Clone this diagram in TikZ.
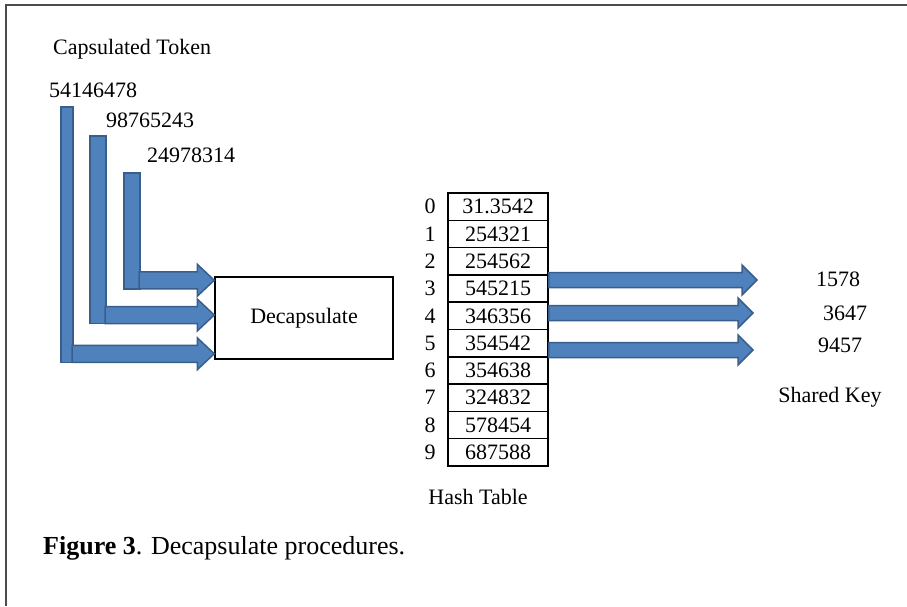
\documentclass[tikz,border=0pt]{standalone}
\usepackage{fontspec}
\setmainfont{Liberation Serif}
\usetikzlibrary{calc}
\definecolor{arrowfill}{HTML}{4F81BD}
\definecolor{arrowedge}{HTML}{3A5E8C}
\begin{document}
\begin{tikzpicture}[x=1pt,y=-1pt,
    txt/.style={inner sep=0pt,font=\fontsize{22}{26}\selectfont},
    cell/.style={txt,draw,line width=1.5pt,minimum width=100pt,minimum height=27.3pt},
    blockarrow/.style={fill=arrowfill,draw=arrowedge,line width=1.5pt},
    harrow/.style n args={3}{blockarrow,to path={let \p1=(\tikztostart),\p2=(\tikztotarget) in
      (\x1,\y1+#1) -- (\x2-#3,\y1+#1) -- (\x2-#3,\y1+#2) -- (\x2,\y1)
      -- (\x2-#3,\y1-#2) -- (\x2-#3,\y1-#1) -- (\x1,\y1-#1) -- cycle}}]
  \useasboundingbox (0,0) rectangle (907,606);
  \draw[gray!60!black,line width=2pt] (6,606) -- (6,5) -- (907,5);

  \node[txt,anchor=base west] (title) at (53,54) {Capsulated Token};
  \node[txt,anchor=base west] (tok1) at (49,97) {54146478};
  \node[txt,anchor=base west] (tok2) at (106,127) {98765243};
  \node[txt,anchor=base west] (tok3) at (147,162) {24978314};
  \node[txt,draw,line width=1.5pt,minimum width=178pt,minimum height=82pt] (dec) at (304,318) {Decapsulate};

  \coordinate (b1) at (67,107);
  \coordinate (b2) at (98,136);
  \coordinate (b3) at (132,173);
  \coordinate (e1) at ($(dec.south west)+(0,-6)$);
  \coordinate (e2) at ($(dec.west)+(0,-3)$);
  \coordinate (e3) at ($(dec.north west)+(0,4)$);
  \filldraw[blockarrow] ($(b1)+(-6,0)$) rectangle ($(b1|-e1)+(6,8.5)$);
  \filldraw[blockarrow] ($(b2)+(-8,0)$) rectangle ($(b2|-e2)+(8,8.5)$);
  \filldraw[blockarrow] ($(b3)+(-8,0)$) rectangle ($(b3|-e3)+(8,8.5)$);
  \draw[harrow={8.5pt}{16pt}{17pt}] ($(b1|-e1)+(5,0)$) to (e1);
  \draw[harrow={8.5pt}{16pt}{17pt}] ($(b2|-e2)+(7,0)$) to (e2);
  \draw[harrow={8.5pt}{16pt}{17pt}] ($(b3|-e3)+(7,0)$) to (e3);

  \foreach \v [count=\i from 0] in {31.3542,254321,254562,545215,346356,354542,354638,324832,578454,687588}{
    \node[cell] (h\i) at (498,{206.65+27.3*\i}) {\v};
    \node[txt] (n\i) at (430,{206.65+27.3*\i}) {\i};
  }
  \node[txt] (hashlbl) at (478,497) {Hash Table};

  \coordinate (r1) at (757,280);
  \coordinate (r2) at (753,313);
  \coordinate (r3) at (753,350);
  \draw[harrow={7.5pt}{15pt}{15pt}] (h3.east |- r1) to (r1);
  \draw[harrow={7.5pt}{15pt}{15pt}] (h4.east |- r2) to (r2);
  \draw[harrow={7.5pt}{15pt}{15pt}] (h5.east |- r3) to (r3);

  \node[txt] (k1) at (838,279) {1578};
  \node[txt] (k2) at (845,313) {3647};
  \node[txt] (k3) at (840,345) {9457};
  \node[txt] (shared) at (830,397) {Shared Key};

  \node[anchor=base west,inner sep=0pt,font=\fontsize{26}{30}\selectfont] (caption) at (43,554) {\textbf{Figure 3}. Decapsulate procedures.};
\end{tikzpicture}
\end{document}
